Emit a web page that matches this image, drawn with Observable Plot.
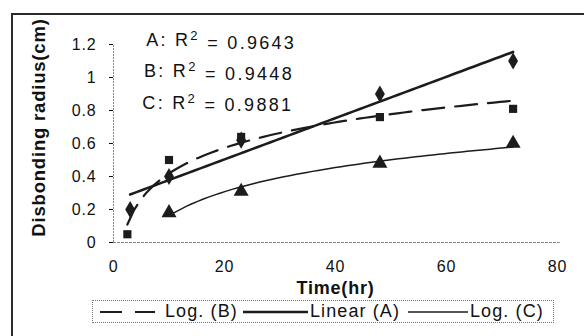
<!DOCTYPE html>
<html>
<head>
<meta charset="utf-8">
<script src="https://cdn.jsdelivr.net/npm/d3@7"></script>
<script src="https://cdn.jsdelivr.net/npm/@observablehq/plot@0.6"></script>
<style>
  html, body { margin: 0; padding: 0; background: #fff; overflow: hidden; }
  #wrap { position: relative; width: 584px; height: 336px; overflow: hidden; font-family: "Liberation Sans", Arial, sans-serif; }
  #frame { position: absolute; left: 11px; top: 13px; width: 700px; height: 500px; border-left: 2px solid #2a2a2a; border-top: 2px solid #2a2a2a; }
  #chart { position: absolute; left: 0; top: 0; }
  #chart svg text { letter-spacing: 0.8px; }
  #legend { position: absolute; left: 92px; top: 300px; width: 460px; height: 21px; border: 1px dotted #777; font-size: 18px; color: #111; letter-spacing: 1.1px; white-space: nowrap; }
  #legend .item { position: absolute; top: 0; height: 21px; line-height: 21px; }
  #legend svg { position: absolute; top: 6px; }
</style>
</head>
<body>
<div id="wrap">
  <div id="frame"></div>
  <div id="chart"></div>
  <div id="legend"></div>
</div>
<script>
// ---- data ----
const timesA = [3, 10, 23, 48, 72];
const radiusA = [0.20, 0.40, 0.62, 0.90, 1.10];   // diamonds, linear fit
const timesB = [2.5, 10, 23, 48, 72];
const radiusB = [0.05, 0.50, 0.64, 0.76, 0.81];   // squares, log fit
const timesC = [10, 23, 48, 72];
const radiusC = [0.18, 0.31, 0.48, 0.60];         // triangles, log fit
const xTicks = [0, 20, 40, 60, 80];
const yTicks = [0, 0.2, 0.4, 0.6, 0.8, 1, 1.2];
const r2Labels = ["A: R\u00B2 = 0.9643", "B: R\u00B2 = 0.9448", "C: R\u00B2 = 0.9881"];
const r2X = [19.4, 19.0, 18.8];
const r2Y = [1.225, 1.035, 0.845];
const legendNames = ["Log. (B)", "Linear (A)", "Log. (C)"];
const xLabel = "Time(hr)";
const yLabel = "Disbonding radius(cm)";

// ---- least-squares trendlines (as Excel draws them) ----
function fit(xs, ys, tx) {
  const u = xs.map(tx);
  const mu = d3.mean(u), my = d3.mean(ys);
  const sxy = d3.sum(u, (v, i) => (v - mu) * (ys[i] - my));
  const sxx = d3.sum(u, v => (v - mu) ** 2);
  const a = sxy / sxx, b = my - a * mu;
  return x => a * tx(x) + b;
}
function curve(xs, ys, tx, series) {
  const f = fit(xs, ys, tx);
  const x0 = d3.min(xs), x1 = d3.max(xs);
  return d3.range(0, 61).map(i => { const x = x0 + (x1 - x0) * i / 60; return {x, y: f(x), series}; });
}
const lineA = curve(timesA, radiusA, x => x, "A");
const lineB = curve(timesB, radiusB, Math.log, "B");
const lineC = curve(timesC, radiusC, Math.log, "C");

const pts = (xs, ys, s) => xs.map((x, i) => ({x, y: ys[i], s}));
const ptsA = pts(timesA, radiusA, "A");
const ptsB = pts(timesB, radiusB, "B");
const ptsC = pts(timesC, radiusC, "C");
const r2 = r2Labels.map((t, i) => ({t, x: r2X[i], y: r2Y[i]}));

const ink = "#1c1c1c";
const chart = Plot.plot({
  width: 584,
  height: 300,
  marginLeft: 113,
  marginRight: 27,
  marginTop: 44,
  marginBottom: 58,
  style: { fontFamily: "'Liberation Sans', Arial, sans-serif", fontSize: "16px", color: "#111", background: "transparent", overflow: "visible" },
  x: { domain: [0, 80], ticks: xTicks, tickSize: 0, tickPadding: 18, label: null, tickFormat: d => String(d) },
  y: { domain: [0, 1.2], ticks: yTicks, tickSize: 4, tickPadding: 13, label: null, tickFormat: d => String(+d.toFixed(1)) },
  marks: [
    Plot.ruleX([0], { y1: 0, y2: 1.2, stroke: "#888", strokeWidth: 1, strokeDasharray: "2,1" }),
    Plot.ruleY([0], { x1: 0, x2: 80.5, stroke: "#888", strokeWidth: 1, strokeDasharray: "3,1" }),
    Plot.line(lineA, { x: "x", y: "y", stroke: ink, strokeWidth: 2.6 }),
    Plot.line(lineB, { x: "x", y: "y", stroke: ink, strokeWidth: 2.2, strokeDasharray: "22,11" }),
    Plot.line(lineC, { x: "x", y: "y", stroke: ink, strokeWidth: 1.5 }),
    Plot.dot(ptsA, { x: "x", y: "y", symbol: "diamond", r: 5.2, fill: ink, stroke: "none" }),
    Plot.dot(ptsB, { x: "x", y: "y", symbol: "square", r: 4.6, fill: ink, stroke: "none" }),
    Plot.dot(ptsC, { x: "x", y: "y", symbol: "triangle", r: 5.6, fill: ink, stroke: "none" }),
    Plot.text(r2, { x: "x", y: "y", text: "t", fontSize: 18, fill: "#111", textAnchor: "middle", className: "r2" }),
    Plot.text([yLabel], { frameAnchor: "left", dx: -74, dy: -16, rotate: -90, textAnchor: "middle", fontSize: 18.5, fontWeight: "bold", fill: "#111", text: d => d }),
    Plot.text([xLabel], { frameAnchor: "bottom", lineAnchor: "middle", dy: 46, textAnchor: "middle", fontSize: 18, fontWeight: "bold", fill: "#111", text: d => d })
  ]
});
document.getElementById("chart").appendChild(chart);

// superscript 2 in the R² labels
d3.select(chart).selectAll("g.r2 text").each(function() {
  const t = d3.select(this);
  const parts = t.text().split("\u00B2");
  t.text(null).style("letter-spacing", "2.3px");
  t.append("tspan").text(parts[0]);
  t.append("tspan").attr("dy", "-0.48em").attr("font-size", "13px").text("2");
  t.append("tspan").attr("dy", "0.48em").text(parts[1]);
});

// ---- legend (HTML below the plot) ----
const leg = d3.select("#legend");
const legendStyles = [
  { name: legendNames[0], lineLeft: 7, lineW: 55, width: 2.2, dash: "22,13", textLeft: 72 },
  { name: legendNames[1], lineLeft: 150, lineW: 65, width: 2.6, dash: null, textLeft: 217 },
  { name: legendNames[2], lineLeft: 315, lineW: 60, width: 1.5, dash: null, textLeft: 377 }
];
legendStyles.forEach(d => {
  const s = leg.append("svg").attr("width", d.lineW).attr("height", 10).style("left", d.lineLeft + "px");
  s.append("line").attr("x1", 0).attr("x2", d.lineW).attr("y1", 5).attr("y2", 5)
    .attr("stroke", ink).attr("stroke-width", d.width).attr("stroke-dasharray", d.dash);
  leg.append("div").attr("class", "item").style("left", d.textLeft + "px").text(d.name);
});
</script>
</body>
</html>
